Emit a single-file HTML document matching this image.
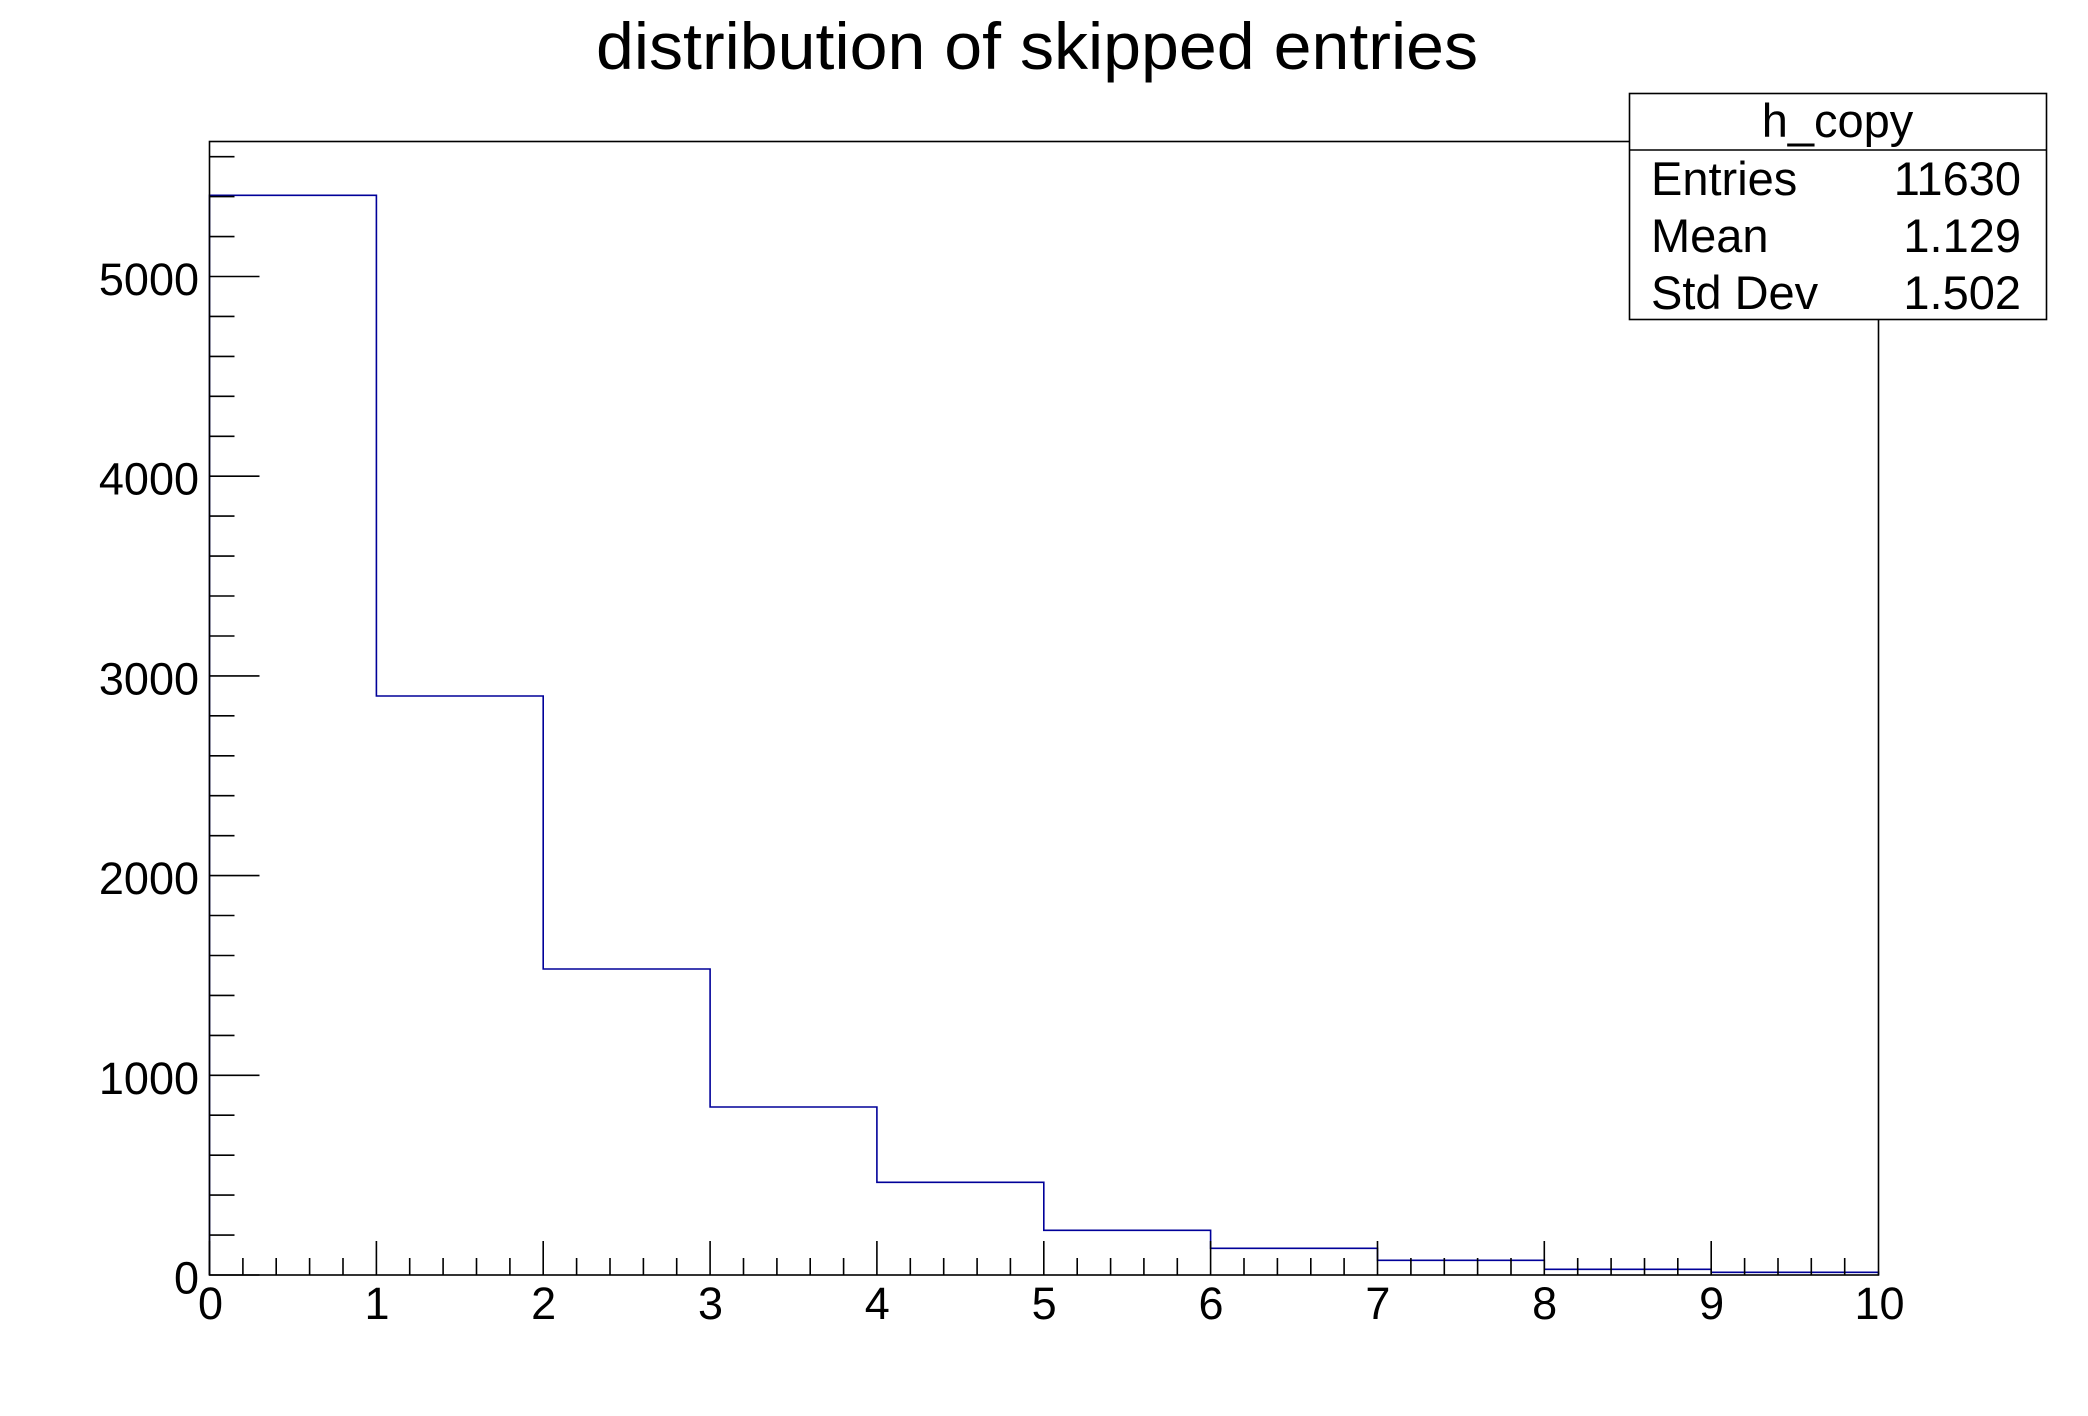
<!DOCTYPE html>
<html>
<head>
<meta charset="utf-8">
<style>
  html, body { margin:0; padding:0; background:#fff; }
  svg { display:block; }
  text { font-family: "Liberation Sans", Arial, sans-serif; fill:#000; }
</style>
</head>
<body>
<svg width="2088" height="1416" viewBox="0 0 2088 1416" xmlns="http://www.w3.org/2000/svg">
  <rect x="0" y="0" width="2088" height="1416" fill="#fff"/>

  <text x="1037" y="69" font-size="66" text-anchor="middle" textLength="882" lengthAdjust="spacingAndGlyphs">distribution of skipped entries</text>

  <path d="M209.5,1275 V195.3 H376.4 V696 H543.2 V969 H710.1 V1107 H876.9 V1182.3 H1043.8 V1230.3 H1210.6 V1248.3 H1377.5 V1260.3 H1544.3 V1269.3 H1711.2 V1272.3 H1878.5 V1275" fill="none" stroke="#000099" stroke-width="1.6"/>

  <rect x="209.5" y="141.5" width="1669" height="1133.5" fill="none" stroke="#000" stroke-width="1.6"/>

  <path stroke="#000" stroke-width="1.6" fill="none" d="
    M209.5,1275V1241 M242.9,1275V1258 M276.2,1275V1258 M309.6,1275V1258 M343.0,1275V1258
    M376.4,1275V1241 M409.7,1275V1258 M443.1,1275V1258 M476.5,1275V1258 M509.9,1275V1258
    M543.2,1275V1241 M576.6,1275V1258 M610.0,1275V1258 M643.4,1275V1258 M676.7,1275V1258
    M710.1,1275V1241 M743.5,1275V1258 M776.9,1275V1258 M810.2,1275V1258 M843.6,1275V1258
    M876.9,1275V1241 M910.3,1275V1258 M943.7,1275V1258 M977.1,1275V1258 M1010.4,1275V1258
    M1043.8,1275V1241 M1077.2,1275V1258 M1110.6,1275V1258 M1143.9,1275V1258 M1177.3,1275V1258
    M1210.6,1275V1241 M1244.0,1275V1258 M1277.4,1275V1258 M1310.8,1275V1258 M1344.1,1275V1258
    M1377.5,1275V1241 M1410.9,1275V1258 M1444.3,1275V1258 M1477.6,1275V1258 M1511.0,1275V1258
    M1544.3,1275V1241 M1577.7,1275V1258 M1611.1,1275V1258 M1644.5,1275V1258 M1677.8,1275V1258
    M1711.2,1275V1241 M1744.6,1275V1258 M1778.0,1275V1258 M1811.3,1275V1258 M1844.7,1275V1258"/>

  <path stroke="#000" stroke-width="1.6" fill="none" d="
    M209.5,1275.0H259.5 M209.5,1235.1H234.5 M209.5,1195.1H234.5 M209.5,1155.2H234.5 M209.5,1115.2H234.5
    M209.5,1075.3H259.5 M209.5,1035.4H234.5 M209.5,995.4H234.5 M209.5,955.5H234.5 M209.5,915.5H234.5
    M209.5,875.6H259.5 M209.5,835.7H234.5 M209.5,795.7H234.5 M209.5,755.8H234.5 M209.5,715.8H234.5
    M209.5,675.9H259.5 M209.5,636.0H234.5 M209.5,596.0H234.5 M209.5,556.1H234.5 M209.5,516.1H234.5
    M209.5,476.2H259.5 M209.5,436.3H234.5 M209.5,396.3H234.5 M209.5,356.4H234.5 M209.5,316.4H234.5
    M209.5,276.5H259.5 M209.5,236.6H234.5 M209.5,196.6H234.5 M209.5,156.7H234.5"/>

  <g font-size="45" text-anchor="end">
    <text x="199" y="1293.5">0</text>
    <text x="199" y="1093.8">1000</text>
    <text x="199" y="894.1">2000</text>
    <text x="199" y="694.4">3000</text>
    <text x="199" y="494.7">4000</text>
    <text x="199" y="295">5000</text>
  </g>

  <g font-size="45" text-anchor="middle">
    <text x="210.5" y="1319">0</text>
    <text x="377" y="1319">1</text>
    <text x="543.7" y="1319">2</text>
    <text x="710.5" y="1319">3</text>
    <text x="877.3" y="1319">4</text>
    <text x="1044.2" y="1319">5</text>
    <text x="1211" y="1319">6</text>
    <text x="1377.9" y="1319">7</text>
    <text x="1544.7" y="1319">8</text>
    <text x="1711.6" y="1319">9</text>
    <text x="1879.5" y="1319">10</text>
  </g>

  <rect x="1629.5" y="93.5" width="417" height="226" fill="#fff" stroke="#000" stroke-width="1.6"/>
  <line x1="1629.5" y1="150" x2="2046.5" y2="150" stroke="#000" stroke-width="1.6"/>
  <text x="1837.5" y="137" font-size="47" text-anchor="middle">h_copy</text>
  <g font-size="47">
    <text x="1651" y="195">Entries</text>
    <text x="1651" y="252">Mean</text>
    <text x="1651" y="309">Std Dev</text>
  </g>
  <g font-size="47" text-anchor="end">
    <text x="2021" y="195">11630</text>
    <text x="2021" y="252">1.129</text>
    <text x="2021" y="309">1.502</text>
  </g>
</svg>
</body>
</html>
